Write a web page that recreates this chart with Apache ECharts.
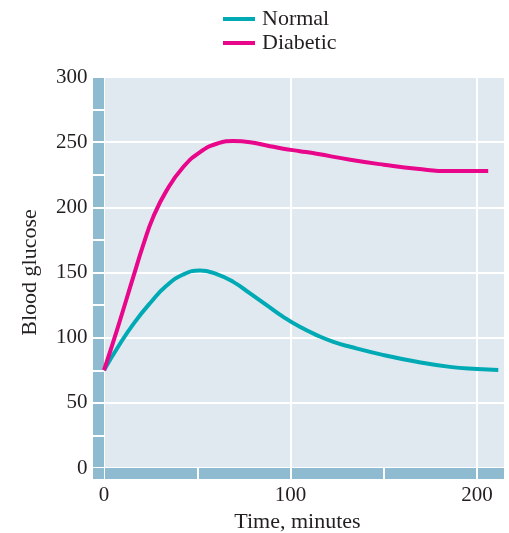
<!DOCTYPE html>
<html>
<head>
<meta charset="utf-8">
<script src="https://cdn.jsdelivr.net/npm/echarts@6/dist/echarts.min.js"></script>
<style>
html,body{margin:0;padding:0;background:#fff;}
#chart{width:509px;height:533px;}
</style>
</head>
<body>
<div id="chart"></div>
<script>
// Data
const seriesNames = ['Normal', 'Diabetic'];
const normalX = [0, 8, 16, 25, 33.6, 42.5, 51.5, 60.4, 69.3, 78.3, 87.2, 96.1, 105, 114, 123, 132, 150, 167.7, 185.5, 200, 211.4];
const normalY = [75, 94, 111, 127, 140, 148.5, 151.5, 148.7, 142.8, 133.9, 124.9, 116, 108.3, 102, 96.8, 93, 86.6, 81.5, 77.6, 75.9, 75.1];
const diabeticX = [0, 7, 15.7, 21, 26.4, 33.6, 42.5, 51.5, 60.4, 69.3, 78.3, 87.2, 96.1, 105, 114, 132, 150, 167.7, 185.5, 206];
const diabeticY = [75, 106, 146.6, 171, 192.6, 213, 230.9, 242.4, 248.8, 250.8, 250, 247.5, 245, 243.1, 241.1, 236.5, 232.7, 229.6, 227.8, 227.8];
const xTicks = [0, 100, 200];
const yTicks = [0, 50, 100, 150, 200, 250, 300];

const FONT = 'Liberation Serif';
const TEXT = '#231f20';
const BAND = '#8fbbd0';
const BG = '#e1e9f0';
const colors = ['#00aab4', '#e8068b'];

function pairs(xs, ys) { return xs.map((x, i) => [x, ys[i]]); }

const chart = echarts.init(document.getElementById('chart'), null, {renderer: 'canvas'});
chart.setOption({
  animation: false,
  color: colors,
  textStyle: {fontFamily: FONT, color: TEXT},
  legend: {
    orient: 'vertical', left: 218, top: 2, icon: 'rect',
    itemWidth: 32, itemHeight: 4, itemGap: 0,
    textStyle: {fontFamily: FONT, fontSize: 22, color: TEXT, lineHeight: 24, padding: [0, 0, 0, 2]},
    data: seriesNames
  },
  grid: {left: 104, right: 4, top: 77, bottom: 65, show: true, backgroundColor: BG, borderWidth: 0,
    containLabel: false, outerBoundsMode: 'none'},
  xAxis: [{
    type: 'value', min: 0, max: 215, interval: 100, offset: 5.5,
    name: 'Time, minutes', nameLocation: 'middle', nameGap: 38,
    nameTextStyle: {fontFamily: FONT, fontSize: 22, color: TEXT, padding: [0, 14, 0, 0]},
    axisLine: {show: true, onZero: false, symbol: ['rect', 'none'], symbolSize: [11, 11], symbolOffset: [-5.5, 0],
      lineStyle: {color: BAND, width: 11, cap: 'butt'}},
    axisTick: {show: false},
    axisLabel: {fontFamily: FONT, fontSize: 21, color: TEXT, margin: 11,
      formatter: v => xTicks.includes(v) ? String(v) : ''},
    splitLine: {show: true, lineStyle: {color: '#ffffff', width: 2}}
  }, {
    type: 'value', min: 0, max: 215, interval: 50, position: 'bottom', offset: 0,
    axisLine: {show: false, onZero: false},
    axisTick: {show: true, length: 11, lineStyle: {color: '#ffffff', width: 2}},
    axisLabel: {show: false},
    splitLine: {show: false}
  }],
  yAxis: [{
    type: 'value', min: 0, max: 300, interval: 50, offset: 5.5,
    name: 'Blood glucose', nameLocation: 'middle', nameGap: 57, nameRotate: 90,
    nameTextStyle: {fontFamily: FONT, fontSize: 22, color: TEXT},
    axisLine: {show: true, onZero: false, lineStyle: {color: BAND, width: 11, cap: 'butt'}},
    axisTick: {show: false},
    axisLabel: {fontFamily: FONT, fontSize: 21, color: TEXT, margin: 11,
      formatter: v => yTicks.includes(v) ? String(v) : ''},
    splitLine: {show: true, lineStyle: {color: '#ffffff', width: 2}}
  }, {
    type: 'value', min: 0, max: 300, interval: 25, position: 'left', offset: 0,
    axisLine: {show: false, onZero: false},
    axisTick: {show: true, length: 11, lineStyle: {color: '#ffffff', width: 2}},
    axisLabel: {show: false},
    splitLine: {show: false}
  }],
  series: [{
    name: seriesNames[0], type: 'line', smooth: 0.5, symbol: 'none',
    lineStyle: {width: 4, color: colors[0]}, data: pairs(normalX, normalY)
  }, {
    name: seriesNames[1], type: 'line', smooth: 0.5, symbol: 'none',
    lineStyle: {width: 4, color: colors[1]}, data: pairs(diabeticX, diabeticY)
  }]
});
</script>
</body>
</html>
